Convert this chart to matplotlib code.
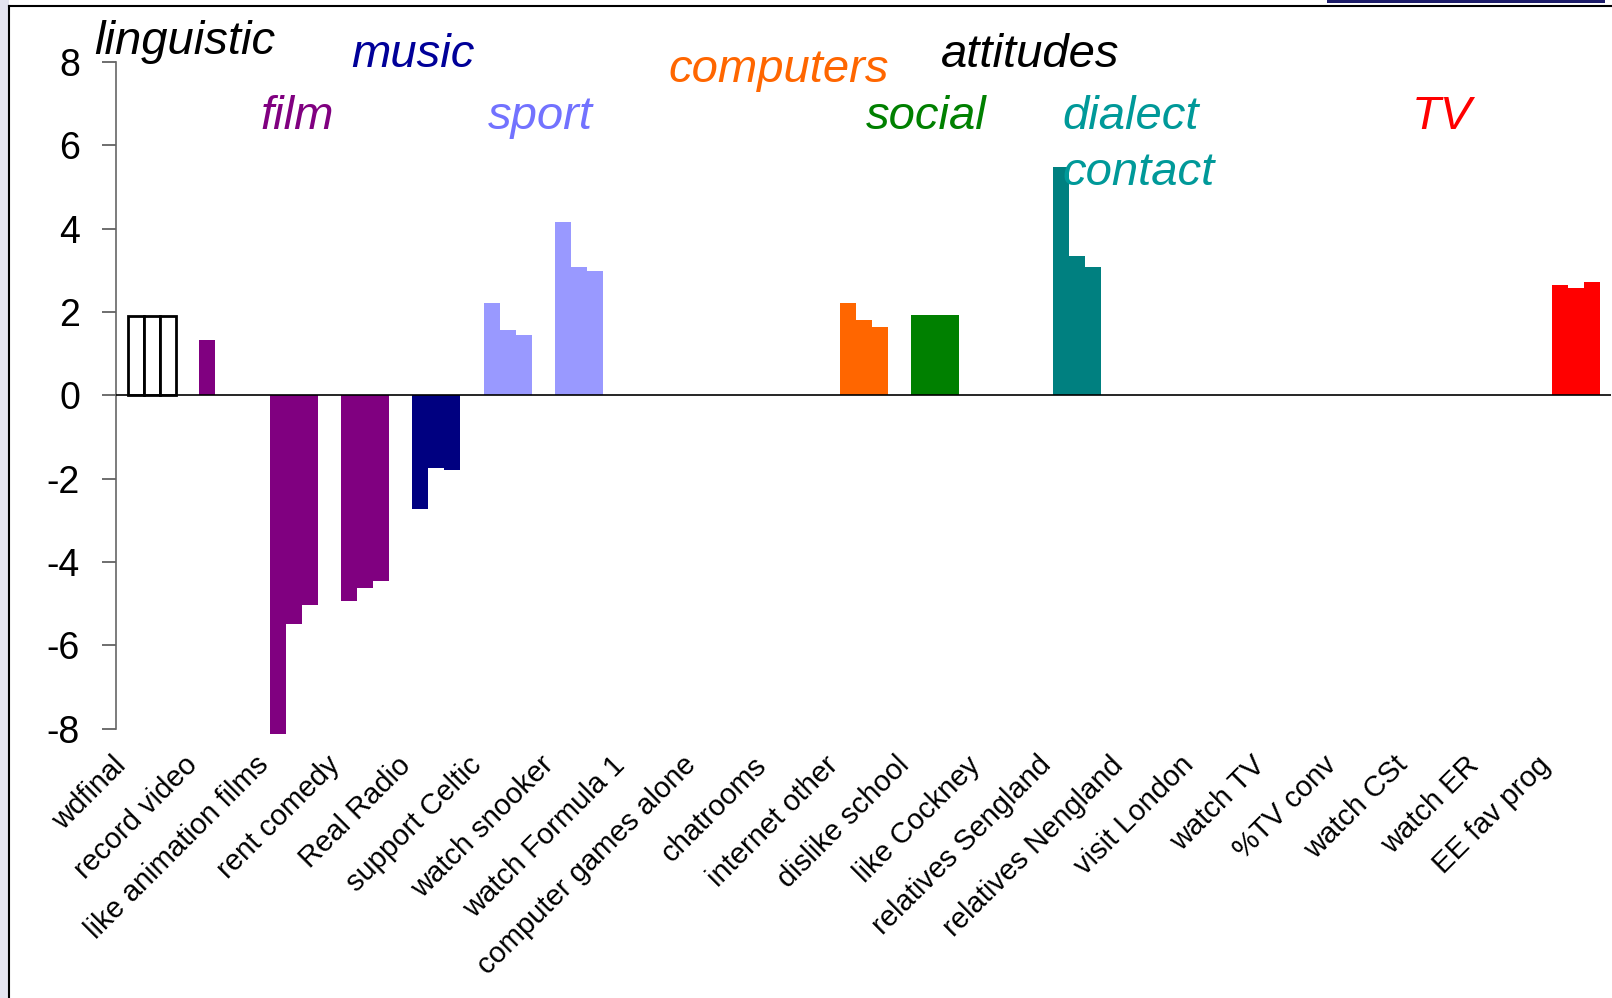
import matplotlib
matplotlib.use("Agg")
import matplotlib.pyplot as plt
import matplotlib.transforms as mtrans
from matplotlib.patches import Rectangle
import numpy as np

plt.rcParams['font.family'] = ['Liberation Sans', 'DejaVu Sans']
plt.rcParams['axes.unicode_minus'] = False

# one value per category for each of the three sub-bars (0 = no bar)
categories = ['wdfinal', 'record video', 'like animation films', 'rent comedy',
              'Real Radio', 'support Celtic', 'watch snooker', 'watch Formula 1',
              'computer games alone', 'chatrooms', 'internet other', 'dislike school',
              'like Cockney', 'relatives Sengland', 'relatives Nengland', 'visit London',
              'watch TV', '%TV conv', 'watch CSt', 'watch ER', 'EE fav prog']
series_a = [1.90, 1.32, -8.13, -4.94, -2.73, 2.21, 4.15, 0, 0, 0, 2.21, 1.94,
            0, 5.47, 0, 0, 0, 0, 0, 0, 2.66]
series_b = [1.90, 0, -5.49, -4.62, -1.74, 1.58, 3.07, 0, 0, 0, 1.80, 1.94,
            0, 3.34, 0, 0, 0, 0, 0, 0, 2.57]
series_c = [1.90, 0, -5.03, -4.46, -1.79, 1.46, 2.98, 0, 0, 0, 1.63, 1.94,
            0, 3.07, 0, 0, 0, 0, 0, 0, 2.71]
bar_colors = ['white', '#800080', '#800080', '#800080', '#000080', '#9999FF',
              '#9999FF', '#9999FF', '#FF6600', '#FF6600', '#FF6600', '#008000',
              '#008080', '#008080', '#008080', '#FF0000', '#FF0000', '#FF0000',
              '#FF0000', '#FF0000', '#FF0000']

# group headings
group_names = ['linguistic', 'music', 'film', 'sport', 'computers', 'attitudes',
               'social', 'dialect', 'contact', 'TV']
group_colors = ['black', '#000099', '#800080', '#7272FF', '#FF6600', 'black',
                '#008000', '#009999', '#009999', '#FF0000']

fig = plt.figure(figsize=(16.12, 9.98), dpi=100)
ax = fig.add_axes([116 / 1612, 1 - 728.7 / 998, 1495.2 / 1612, 666.7 / 998])

x = np.arange(len(categories))
w = 0.2247
edges = ['black' if c == 'white' else 'none' for c in bar_colors]
for off, vals in zip([-w, 0, w], [series_a, series_b, series_c]):
    bars = ax.bar(x + off, vals, width=w, color=bar_colors, edgecolor=edges,
                  linewidth=2.0, zorder=2)
    for b in bars:
        b.set_clip_on(False)

ax.axhline(0, color='black', linewidth=1.2, zorder=3)
ax.set_xlim(-0.5, 20.5)
ax.set_ylim(-8, 8)
ax.set_yticks(range(-8, 9, 2))
ax.tick_params(axis='y', length=10, width=1.2, color='#555555', pad=16,
               labelsize=27)
ax.spines['left'].set_color('#666666')
ax.spines['left'].set_linewidth(1.2)
for s in ['top', 'right', 'bottom']:
    ax.spines[s].set_visible(False)

ax.set_xticks(x)
ax.set_xticklabels(categories, rotation=45, ha='right', va='top', fontsize=21)
ax.tick_params(axis='x', length=0, pad=16)
shift = mtrans.ScaledTranslation(-0.2, 0, fig.dpi_scale_trans)
for lab in ax.get_xticklabels():
    lab.set_transform(lab.get_transform() + shift)

# heading positions (data coords: left edge, baseline)
head_pos = [(-0.80, 8.20), (2.81, 7.88), (1.53, 6.40), (4.72, 6.40),
            (7.26, 7.51), (11.09, 7.87), (10.03, 6.40), (12.79, 6.40),
            (12.79, 5.04), (17.70, 6.40)]
for name, col, (hx, hy) in zip(group_names, group_colors, head_pos):
    ax.text(hx, hy, name, color=col, fontsize=34, style='italic',
            ha='left', va='baseline', clip_on=False, zorder=4)

# slide frame
fig.patches.append(Rectangle((0, 0), 9 / 1612, 1, transform=fig.transFigure,
                             facecolor='#E4E4F0', edgecolor='none', zorder=0))
fig.add_artist(plt.Line2D([9 / 1612, 9 / 1612], [0, 1 - 6 / 998],
                          transform=fig.transFigure, color='black', linewidth=1.5))
fig.add_artist(plt.Line2D([9 / 1612, 1], [1 - 6 / 998, 1 - 6 / 998],
                          transform=fig.transFigure, color='black', linewidth=1.5))
fig.patches.append(Rectangle((1327 / 1612, 1 - 2.5 / 998), 278 / 1612, 2.5 / 998,
                             transform=fig.transFigure, facecolor='#1C1C6A',
                             edgecolor='none'))

fig.savefig('out.png', dpi=100)
